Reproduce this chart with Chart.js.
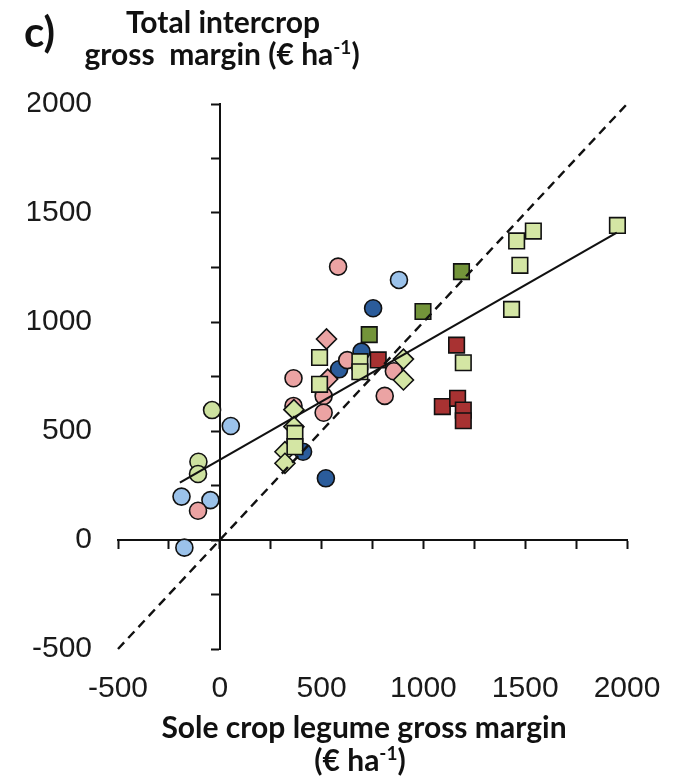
<!DOCTYPE html>
<html>
<head>
<meta charset="utf-8">
<script src="https://cdn.jsdelivr.net/npm/chart.js@4.4.1/dist/chart.umd.min.js"></script>
<style>
  html, body { margin: 0; padding: 0; background: #ffffff; }
  #wrap { width: 675px; height: 776px; position: relative; }
</style>
</head>
<body>
<div id="wrap"><canvas id="c" width="675" height="776"></canvas></div>
<script>
// ---- axis range and tick labels ----
const axisMin = -500;
const axisMax = 2000;
const labelStep = 500;
const tickStep = 250;

// ---- series (x = sole crop legume gross margin, y = total intercrop gross margin) ----
const lightBlueCircleX = [-188, -46, -174, 54, 880];
const lightBlueCircleY = [199, 183, -35, 523, 1193];

const darkBlueCircleX = [586, 409, 521, 696, 753];
const darkBlueCircleY = [783, 405, 283, 864, 1063];

const pinkCircleX = [-107, 581, 362, 362, 510, 510, 626, 855, 810];
const pinkCircleY = [134, 1254, 742, 615, 660, 584, 825, 774, 661];

const lightGreenCircleX = [-38, -105, -107];
const lightGreenCircleY = [596, 359, 303];

const pinkDiamondX = [524, 530];
const pinkDiamondY = [922, 738];

const lightGreenDiamondX = [364, 364, 320, 320, 902, 902];
const lightGreenDiamondY = [598, 520, 405, 352, 830, 734];

const lightGreenSquareX = [490, 490, 369, 369, 688, 688, 1196, 1953, 1540, 1458, 1474, 1433];
const lightGreenSquareY = [837, 714, 489, 428, 818, 772, 813, 1443, 1417, 1372, 1260, 1058];

const darkGreenSquareX = [734, 998, 1187];
const darkGreenSquareY = [942, 1048, 1231];

const darkRedSquareX = [778, 1163, 1093, 1168, 1196, 1196];
const darkRedSquareY = [826, 894, 612, 650, 596, 547];

// 1:1 line and fitted regression line (end values)
const oneToOneX = [-500, 2000];
const oneToOneY = [-500, 2000];
const fitLineX = [-196, 1950];
const fitLineY = [263, 1410];

function pts(xs, ys) { return xs.map((x, i) => ({ x: x, y: ys[i] })); }

function markerSet(label, xs, ys, color, style, radius, order) {
  return {
    type: 'scatter',
    label: label,
    data: pts(xs, ys),
    pointStyle: style,
    pointRadius: radius,
    pointHoverRadius: radius,
    backgroundColor: color,
    borderColor: '#111111',
    borderWidth: 1.6,
    order: order
  };
}

function lineSet(label, xs, ys, dash, width, order) {
  return {
    type: 'scatter',
    label: label,
    data: pts(xs, ys),
    showLine: true,
    pointRadius: 0,
    borderColor: '#111111',
    borderWidth: width,
    borderDash: dash,
    backgroundColor: 'transparent',
    order: order,
    clip: 4
  };
}

// rich text helper for superscripts
function drawRich(ctx, segs, cx, y, size, family) {
  let total = 0;
  const widths = segs.map(s => {
    ctx.font = 'bold ' + (s.sup ? Math.round(size * 0.62) : size) + 'px ' + family;
    const w = ctx.measureText(s.t).width;
    total += w;
    return w;
  });
  let x = cx - total / 2;
  ctx.textAlign = 'left';
  segs.forEach((s, i) => {
    ctx.font = 'bold ' + (s.sup ? Math.round(size * 0.62) : size) + 'px ' + family;
    ctx.fillText(s.t, x, s.sup ? y - size * 0.38 : y);
    x += widths[i];
  });
}

const titlePlugin = {
  id: 'titles',
  afterDraw(chart) {
    const ctx = chart.ctx;
    const fam = 'Lato, "Open Sans", sans-serif';
    ctx.save();
    ctx.fillStyle = '#111111';
    ctx.textBaseline = 'alphabetic';
    ctx.textAlign = 'left';
    ctx.font = 'bold 42px ' + fam;
    ctx.fillText('c)', 24, 47);
    ctx.textAlign = 'center';
    ctx.font = 'bold 30px ' + fam;
    ctx.fillText('Total intercrop', 223, 33);
    drawRich(ctx, [{ t: 'gross  margin (€ ha' }, { t: '-1', sup: true }, { t: ')' }], 222, 65, 30, fam);
    ctx.textAlign = 'center';
    ctx.font = 'bold 30px ' + fam;
    ctx.fillText('Sole crop legume gross margin', 364, 738);
    drawRich(ctx, [{ t: '(€ ha' }, { t: '-1', sup: true }, { t: ')' }], 360, 771, 30, fam);
    ctx.restore();
  }
};

const tickFont = { family: '"Liberation Sans", Arial, sans-serif', size: 30 };

function noPad(s) { s.paddingLeft = 0; s.paddingRight = 0; s.paddingTop = 0; s.paddingBottom = 0; }

new Chart(document.getElementById('c'), {
  type: 'scatter',
  data: {
    datasets: [
      lineSet('1:1', oneToOneX, oneToOneY, [9, 6], 2.4, 0),
      lineSet('fit', fitLineX, fitLineY, [], 2.2, 0),
      markerSet('dark red squares', darkRedSquareX, darkRedSquareY, '#A83232', 'rect', 11, 1),
      markerSet('dark green squares', darkGreenSquareX, darkGreenSquareY, '#73943A', 'rect', 11, 1),
      markerSet('light green squares', lightGreenSquareX, lightGreenSquareY, '#D4E6A4', 'rect', 11, 2),
      markerSet('light green diamonds', lightGreenDiamondX, lightGreenDiamondY, '#D4E6A4', 'rectRot', 10, 3),
      markerSet('pink diamonds', pinkDiamondX, pinkDiamondY, '#EBA3A3', 'rectRot', 10, 4),
      markerSet('light green circles', lightGreenCircleX, lightGreenCircleY, '#CDE19F', 'circle', 8.5, 5),
      markerSet('pink circles', pinkCircleX, pinkCircleY, '#EBA3A3', 'circle', 8.5, 5),
      markerSet('dark blue circles', darkBlueCircleX, darkBlueCircleY, '#2B5C9B', 'circle', 8.5, 6),
      markerSet('light blue circles', lightBlueCircleX, lightBlueCircleY, '#9BC2EA', 'circle', 8.5, 6)
    ]
  },
  options: {
    responsive: false,
    animation: false,
    devicePixelRatio: 1,
    layout: { padding: { left: 28, right: 48, top: 104, bottom: 0 } },
    plugins: { legend: { display: false }, tooltip: { enabled: false }, title: { display: false } },
    scales: {
      x: {
        type: 'linear', position: 'bottom', min: axisMin, max: axisMax,
        grid: { display: false, drawTicks: false },
        border: { display: false },
        ticks: { stepSize: labelStep, padding: 22, font: tickFont, color: '#1a1a1a', maxRotation: 0, autoSkip: false,
                 callback: v => String(v) },
        afterFit: s => { s.height = 127; noPad(s); }
      },
      y: {
        type: 'linear', position: 'left', min: axisMin, max: axisMax,
        grid: { display: false, drawTicks: false },
        border: { display: false },
        ticks: { stepSize: labelStep, padding: 26, font: tickFont, color: '#1a1a1a', autoSkip: false,
                 callback: v => String(v) },
        afterFit: s => { s.width = 90; noPad(s); }
      },
      xz: {
        axis: 'x', type: 'linear', position: { y: 0 }, min: axisMin, max: axisMax,
        ticks: { stepSize: tickStep, display: false },
        grid: { drawOnChartArea: false, drawTicks: true, tickLength: 8, tickColor: '#111111', tickWidth: 2 },
        border: { display: true, color: '#111111', width: 2 },
        afterFit: s => { s.height = 0; noPad(s); }
      },
      yz: {
        axis: 'y', type: 'linear', position: { x: 0 }, min: axisMin, max: axisMax,
        ticks: { stepSize: tickStep, display: false },
        grid: { drawOnChartArea: false, drawTicks: true, tickLength: 8, tickColor: '#111111', tickWidth: 2 },
        border: { display: true, color: '#111111', width: 2 },
        afterFit: s => { s.width = 0; noPad(s); }
      }
    }
  },
  plugins: [titlePlugin]
});
</script>
</body>
</html>
